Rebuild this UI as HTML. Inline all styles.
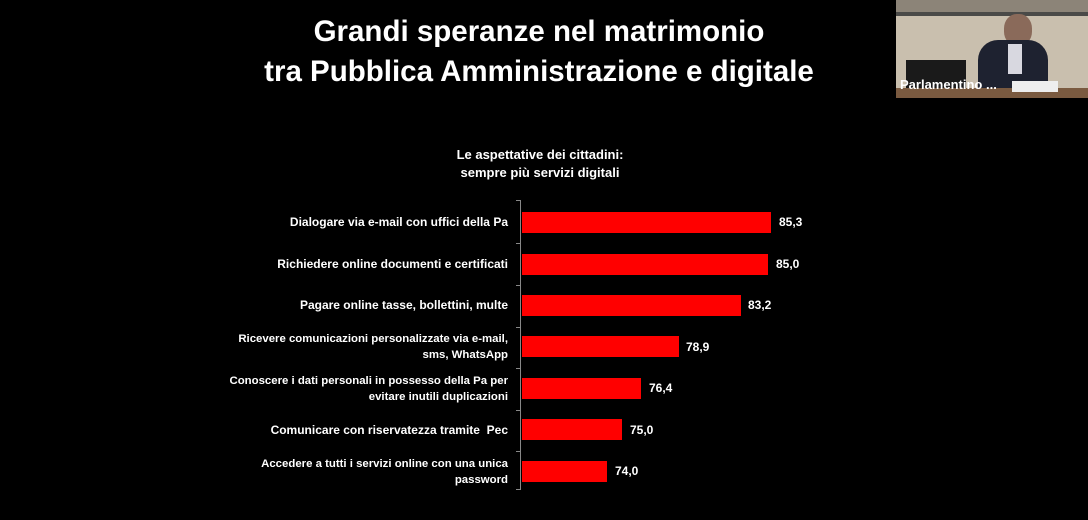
<!DOCTYPE html>
<html><head><style>
body{margin:0;width:1088px;height:520px;background:#000;position:relative;overflow:hidden;font-family:"Liberation Sans",sans-serif;color:#fff}
.t{position:absolute;left:0;width:1078px;text-align:center;font-weight:bold;font-size:29.5px;color:#fff}
.st{position:absolute;left:380px;width:320px;text-align:center;font-weight:bold;font-size:13px;line-height:18px}
.lab{position:absolute;right:580px;text-align:right;font-weight:bold;font-size:11.4px;line-height:16px;width:320px}
.lab.s{font-size:12px}
.bar{position:absolute;left:522px;height:21px;background:#f00}
.v{position:absolute;font-weight:bold;font-size:12px}
.tk{position:absolute;left:516px;width:5px;height:1px;background:#888}
</style></head><body>
<div class="t" style="top:15px">Grandi speranze nel matrimonio</div>
<div class="t" style="top:55px">tra Pubblica Amministrazione e digitale</div>
<div class="st" style="top:146px">Le aspettative dei cittadini:<br>sempre più servizi digitali</div>
<div style="position:absolute;left:520px;top:200px;width:1px;height:290px;background:#888"></div>
<div class="tk" style="top:200px"></div><div class="tk" style="top:243px"></div><div class="tk" style="top:285px"></div><div class="tk" style="top:327px"></div><div class="tk" style="top:368px"></div><div class="tk" style="top:410px"></div><div class="tk" style="top:451px"></div><div class="tk" style="top:489px"></div>

<div class="lab s" style="top:214px">Dialogare via e-mail con uffici della Pa</div>
<div class="bar" style="top:212px;width:249px"></div><div class="v" style="left:779px;top:215px">85,3</div>

<div class="lab s" style="top:256px">Richiedere online documenti e certificati</div>
<div class="bar" style="top:254px;width:246px"></div><div class="v" style="left:776px;top:257px">85,0</div>

<div class="lab s" style="top:297px">Pagare online tasse, bollettini, multe</div>
<div class="bar" style="top:295px;width:219px"></div><div class="v" style="left:748px;top:298px">83,2</div>

<div class="lab" style="top:331px">Ricevere comunicazioni personalizzate via e-mail,<br>sms, WhatsApp</div>
<div class="bar" style="top:336px;width:157px"></div><div class="v" style="left:686px;top:340px">78,9</div>

<div class="lab" style="top:373px">Conoscere i dati personali in possesso della Pa per<br>evitare inutili duplicazioni</div>
<div class="bar" style="top:378px;width:119px"></div><div class="v" style="left:649px;top:381px">76,4</div>

<div class="lab s" style="top:422px">Comunicare con riservatezza tramite&nbsp; Pec</div>
<div class="bar" style="top:419px;width:100px"></div><div class="v" style="left:630px;top:423px">75,0</div>

<div class="lab" style="top:456px">Accedere a tutti i servizi online con una unica<br>password</div>
<div class="bar" style="top:461px;width:85px"></div><div class="v" style="left:615px;top:464px">74,0</div>

<div style="position:absolute;left:896px;top:0;width:192px;height:98px;background:linear-gradient(#8c8478 0,#8c8478 12px,#4a4a48 12px,#4a4a48 16px,#c9bfae 16px);overflow:hidden">
 <div style="position:absolute;left:108px;top:14px;width:28px;height:32px;border-radius:45%;background:#8a6a5a"></div>
 <div style="position:absolute;left:82px;top:40px;width:70px;height:58px;background:#1e2230;border-radius:20px 20px 0 0"></div>
 <div style="position:absolute;left:112px;top:44px;width:14px;height:30px;background:#d8d8e0"></div>
 <div style="position:absolute;left:10px;top:60px;width:60px;height:38px;background:#1a1a1a"></div>
 <div style="position:absolute;left:0;top:88px;width:192px;height:10px;background:#7a5a40"></div>
 <div style="position:absolute;left:116px;top:81px;width:46px;height:11px;background:#eee"></div>
 <div style="position:absolute;left:4px;top:77px;font-size:13px;font-weight:bold;color:#fff">Parlamentino ...</div>
</div>
</body></html>
